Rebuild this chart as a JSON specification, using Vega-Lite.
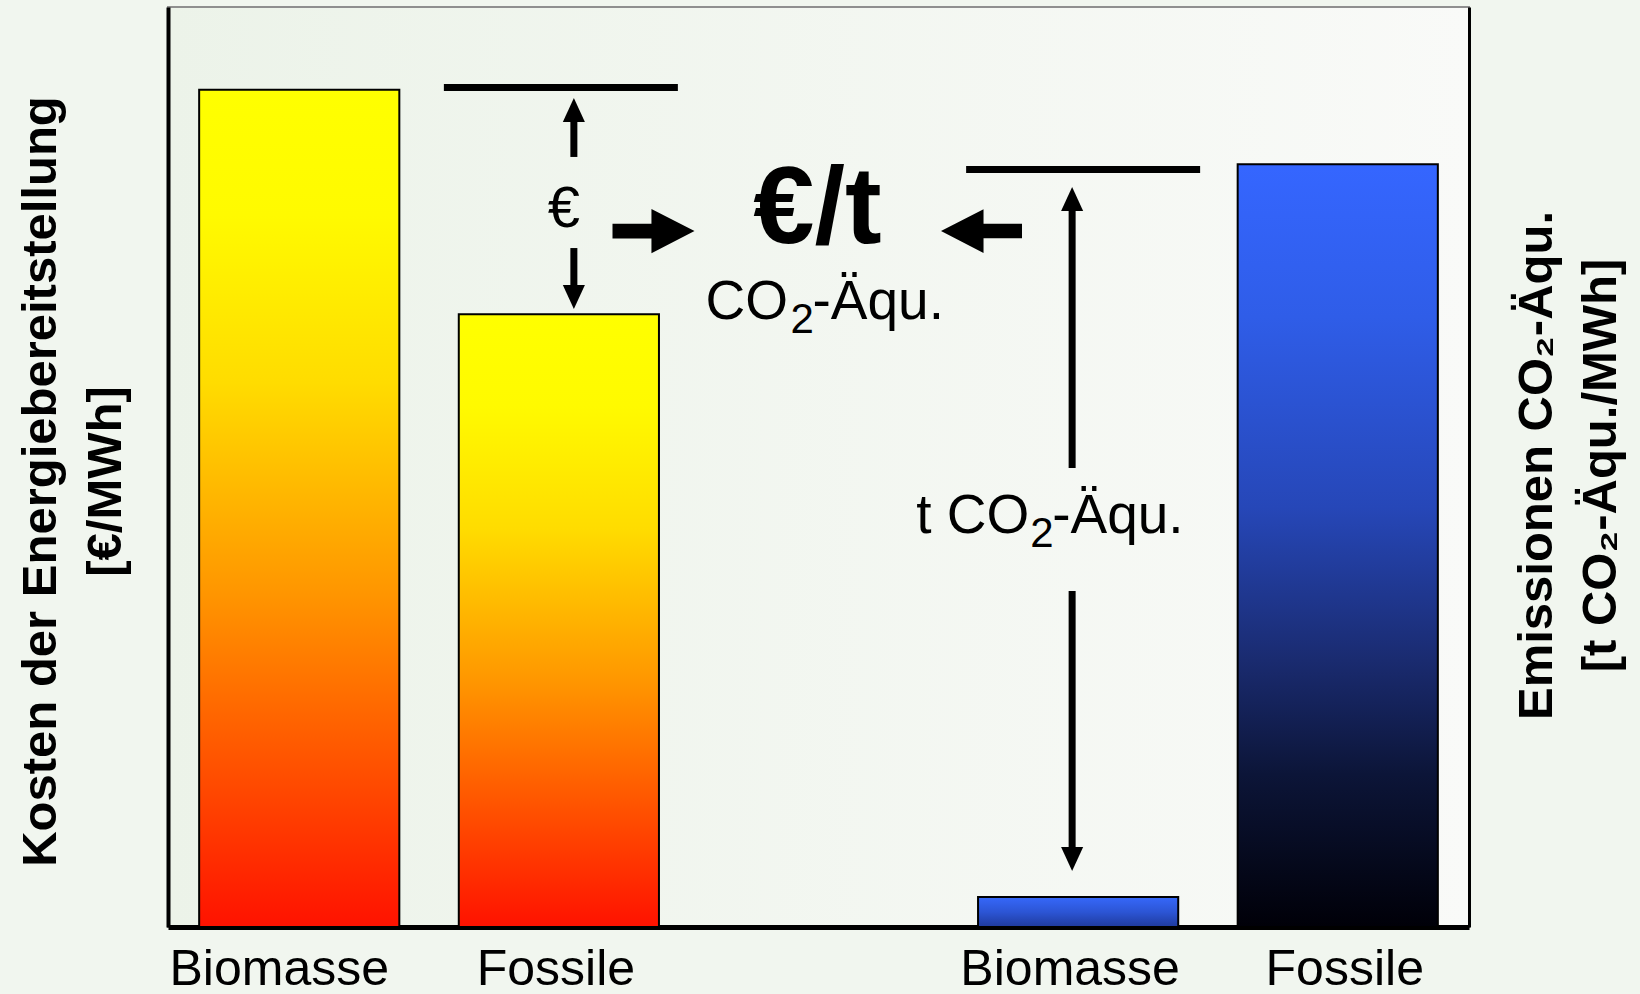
{
  "$schema": "https://vega.github.io/schema/vega-lite/v6.json",
  "width": 1301,
  "height": 920,
  "autosize": "none",
  "padding": {"left": 168, "top": 7, "right": 171, "bottom": 67},
  "background": "#F1F6EF",
  "config": {
    "font": "Liberation Sans",
    "view": {
      "fill": {"gradient": "linear", "x1": 0, "y1": 0, "x2": 1, "y2": 0,
        "stops": [{"offset": 0, "color": "#ECF3E9"}, {"offset": 1, "color": "#F9FAF8"}]},
      "stroke": "#8F8F8F",
      "strokeWidth": 2
    }
  },
  "encoding": {
    "x": {
      "field": "slot", "type": "nominal",
      "scale": {"domain": ["B1", "F1", "mitte", "B2", "F2"], "paddingInner": 0.229, "paddingOuter": 0.12},
      "axis": {
        "title": null,
        "labelExpr": "datum.value === 'B1' || datum.value === 'B2' ? 'Biomasse' : datum.value === 'mitte' ? '' : 'Fossile'",
        "labelAngle": 0,
        "labelFontSize": 50,
        "labelFont": "Liberation Sans",
        "labelColor": "black",
        "labelPadding": 17,
        "labelLimit": 500,
        "labelOffset": {"condition": [
          {"test": "datum.value === 'B1'", "value": -20},
          {"test": "datum.value === 'B2'", "value": -8},
          {"test": "datum.value === 'F2'", "value": 7}
        ], "value": -3},
        "ticks": false,
        "tickSize": 0,
        "domainColor": "black",
        "domainWidth": 5,
        "grid": false
      }
    }
  },
  "layer": [
    {
      "encoding": {
        "y": {
          "field": "wert", "type": "quantitative",
          "scale": {"domain": [0, 100], "nice": false, "zero": true},
          "axis": {
            "orient": "left",
            "domainColor": "black", "domainWidth": 4,
            "ticks": false, "labels": false, "grid": false,
            "title": ["Kosten der Energiebereitstellung", "[€/MWh]"],
            "titleFontSize": 49, "titleFontWeight": "bold", "titleFont": "Liberation Sans", "titleColor": "black",
            "titleAngle": -90, "titleX": -128, "titleY": 474, "titleAlign": "center", "titleBaseline": "middle",
            "titleLineHeight": 65
          }
        }
      },
      "layer": [
        {
          "data": {"values": [{"slot": "B1", "wert": 91.0}, {"slot": "F1", "wert": 66.6}]},
          "mark": {"type": "bar", "stroke": "black", "strokeWidth": 2,
            "fill": {"gradient": "linear", "x1": 0, "y1": 1, "x2": 0, "y2": 0,
              "stops": [{"offset": 0, "color": "#FF1200"}, {"offset": 0.4, "color": "#FF9600"}, {"offset": 0.65, "color": "#FFDC00"}, {"offset": 0.85, "color": "#FFFA00"}, {"offset": 1, "color": "#FFFF00"}]}}
        },
        {
          "data": {"values": [{"slot": "F1", "wert": 91.25}]},
          "mark": {"type": "tick", "color": "black", "size": 234, "thickness": 7, "opacity": 1, "xOffset": 2}
        },
        {
          "data": {"values": [{"slot": "F1", "wert": 83.7, "wert2": 87.8}, {"slot": "F1", "wert": 73.8, "wert2": 69.2}]},
          "mark": {"type": "rule", "color": "black", "strokeWidth": 7, "xOffset": 15},
          "encoding": {"y2": {"field": "wert2"}}
        },
        {
          "data": {"values": [{"slot": "F1", "wert": 90.11, "richtung": "hoch"}, {"slot": "F1", "wert": 67.17, "richtung": "runter"}]},
          "mark": {"type": "point", "filled": true, "color": "black", "opacity": 1, "size": 2304, "xOffset": 15, "strokeWidth": 0},
          "encoding": {"shape": {"field": "richtung", "type": "nominal", "legend": null,
            "scale": {"domain": ["hoch", "runter"], "range": ["M0,0L0.46,1L-0.46,1Z", "M0,0L0.46,-1L-0.46,-1Z"]}}}
        },
        {
          "data": {"values": [{"slot": "mitte", "wert": 75.65}]},
          "mark": {"type": "point", "filled": true, "color": "black", "opacity": 1, "size": 6724, "xOffset": -165, "strokeWidth": 0,
            "shape": "M-1,-0.18L-0.05,-0.18L-0.05,-0.54L1,0L-0.05,0.54L-0.05,0.18L-1,0.18Z"}
        },
        {
          "data": {"values": [{"slot": "mitte", "wert": 75.65}]},
          "mark": {"type": "point", "filled": true, "color": "black", "opacity": 1, "size": 6561, "xOffset": 163, "strokeWidth": 0,
            "shape": "M1,-0.18L0.05,-0.18L0.05,-0.54L-1,0L0.05,0.54L0.05,0.18L1,0.18Z"}
        },
        {
          "data": {"values": [{"slot": "F1", "wert": 76.09, "text": "€"}]},
          "mark": {"type": "text", "fontSize": 58, "color": "black", "baseline": "alphabetic", "align": "center", "xOffset": 5},
          "encoding": {"text": {"field": "text"}}
        },
        {
          "data": {"values": [{"slot": "mitte", "wert": 74.35, "text": "€/t"}]},
          "mark": {"type": "text", "fontSize": 110, "fontWeight": "bold", "color": "black", "baseline": "alphabetic", "align": "center", "xOffset": -1},
          "encoding": {"text": {"field": "text"}}
        },
        {
          "data": {"values": [{"slot": "mitte", "wert": 66.09, "text": "CO"}]},
          "mark": {"type": "text", "fontSize": 55, "color": "black", "baseline": "alphabetic", "align": "left", "xOffset": -113},
          "encoding": {"text": {"field": "text"}}
        },
        {
          "data": {"values": [{"slot": "mitte", "wert": 64.57, "text": "2"}]},
          "mark": {"type": "text", "fontSize": 42, "color": "black", "baseline": "alphabetic", "align": "left", "xOffset": -28},
          "encoding": {"text": {"field": "text"}}
        },
        {
          "data": {"values": [{"slot": "mitte", "wert": 66.09, "text": "-Äqu."}]},
          "mark": {"type": "text", "fontSize": 55, "color": "black", "baseline": "alphabetic", "align": "left", "xOffset": -6},
          "encoding": {"text": {"field": "text"}}
        }
      ]
    },
    {
      "encoding": {
        "y": {
          "field": "wert", "type": "quantitative",
          "scale": {"domain": [0, 1], "nice": false, "zero": true},
          "axis": {
            "orient": "right",
            "domainColor": "black", "domainWidth": 3,
            "ticks": false, "labels": false, "grid": false,
            "title": ["Emissionen CO₂-Äqu.", "[t CO₂-Äqu./MWh]"],
            "titleFontSize": 49, "titleFontWeight": "bold", "titleFont": "Liberation Sans", "titleColor": "black",
            "titleAngle": -90, "titleX": 67, "titleY": 458, "titleAlign": "center", "titleBaseline": "middle",
            "titleLineHeight": 64
          }
        }
      },
      "layer": [
        {
          "data": {"values": [{"slot": "B2", "wert": 0.0326}]},
          "mark": {"type": "bar", "stroke": "black", "strokeWidth": 2,
            "fill": {"gradient": "linear", "x1": 0, "y1": 1, "x2": 0, "y2": 0,
              "stops": [{"offset": 0, "color": "#1F3A9C"}, {"offset": 0.5, "color": "#2C55D5"}, {"offset": 1, "color": "#3668FA"}]}}
        },
        {
          "data": {"values": [{"slot": "F2", "wert": 0.829}]},
          "mark": {"type": "bar", "stroke": "black", "strokeWidth": 2,
            "fill": {"gradient": "linear", "x1": 0, "y1": 1, "x2": 0, "y2": 0,
              "stops": [{"offset": 0, "color": "#000008"}, {"offset": 0.2, "color": "#0C1538"}, {"offset": 0.35, "color": "#1A2B70"}, {"offset": 0.55, "color": "#2647B8"}, {"offset": 0.8, "color": "#2F5DE8"}, {"offset": 1, "color": "#3566FF"}]}}
        },
        {
          "data": {"values": [{"slot": "B2", "wert": 0.8234}]},
          "mark": {"type": "tick", "color": "black", "size": 234, "thickness": 7, "opacity": 1, "xOffset": 5}
        },
        {
          "data": {"values": [{"slot": "B2", "wert": 0.4989, "wert2": 0.7835}, {"slot": "B2", "wert": 0.3652, "wert2": 0.0865}]},
          "mark": {"type": "rule", "color": "black", "strokeWidth": 7, "xOffset": -6},
          "encoding": {"y2": {"field": "wert2"}}
        },
        {
          "data": {"values": [{"slot": "B2", "wert": 0.8043, "richtung": "hoch"}, {"slot": "B2", "wert": 0.0609, "richtung": "runter"}]},
          "mark": {"type": "point", "filled": true, "color": "black", "opacity": 1, "size": 2304, "xOffset": -6, "strokeWidth": 0},
          "encoding": {"shape": {"field": "richtung", "type": "nominal", "legend": null,
            "scale": {"domain": ["hoch", "runter"], "range": ["M0,0L0.46,1L-0.46,1Z", "M0,0L0.46,-1L-0.46,-1Z"]}}}
        },
        {
          "data": {"values": [{"slot": "B2", "wert": 0.4283, "text": "t CO"}]},
          "mark": {"type": "text", "fontSize": 55, "color": "black", "baseline": "alphabetic", "align": "left", "xOffset": -162},
          "encoding": {"text": {"field": "text"}}
        },
        {
          "data": {"values": [{"slot": "B2", "wert": 0.4130, "text": "2"}]},
          "mark": {"type": "text", "fontSize": 42, "color": "black", "baseline": "alphabetic", "align": "left", "xOffset": -48},
          "encoding": {"text": {"field": "text"}}
        },
        {
          "data": {"values": [{"slot": "B2", "wert": 0.4283, "text": "-Äqu."}]},
          "mark": {"type": "text", "fontSize": 55, "color": "black", "baseline": "alphabetic", "align": "left", "xOffset": -26},
          "encoding": {"text": {"field": "text"}}
        }
      ]
    }
  ],
  "resolve": {"scale": {"y": "independent"}}
}
